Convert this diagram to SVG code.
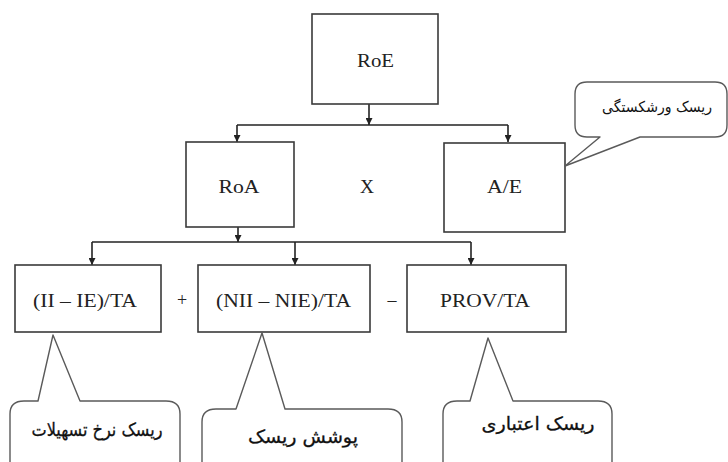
<svg xmlns="http://www.w3.org/2000/svg" width="728" height="462" viewBox="0 0 728 462">
<style>
.box{fill:#fff;stroke:#3a3a3a;stroke-width:1.6}
.co{fill:#fff;stroke:#5a5a5a;stroke-width:1.4;stroke-linejoin:round}
.lat{font-family:"Liberation Serif","Times New Roman",serif;font-size:18px;fill:#222;text-anchor:middle}
.fa{font-family:"DejaVu Sans","Noto Sans",sans-serif;font-size:18px;fill:#111;text-anchor:middle;stroke:#111;stroke-width:0.3}
.cn{fill:none;stroke:#222;stroke-width:1.6}
</style>
<defs>
<marker id="ah" viewBox="0 0 8 8" refX="8" refY="4" markerWidth="7" markerHeight="7" markerUnits="userSpaceOnUse" orient="auto">
<path d="M0,0 L8,4 L0,8 z" fill="#222"/>
</marker>
</defs>
<rect width="728" height="462" fill="#fff"/>
<g id="connectors">
<path class="cn" d="M369,104 V125" marker-end="url(#ah)"/>
<path class="cn" d="M237,125 H508"/>
<path class="cn" d="M237,125 V142" marker-end="url(#ah)"/>
<path class="cn" d="M508,125 V142" marker-end="url(#ah)"/>
<path class="cn" d="M238,227 V242" marker-end="url(#ah)"/>
<path class="cn" d="M92,242 H471"/>
<path class="cn" d="M92,242 V265" marker-end="url(#ah)"/>
<path class="cn" d="M295,242 V265" marker-end="url(#ah)"/>
<path class="cn" d="M471,242 V265" marker-end="url(#ah)"/>
</g>
<g id="roe"><rect class="box" x="312" y="14" width="126" height="90"/><text class="lat" x="375.5" y="67" textLength="37" lengthAdjust="spacingAndGlyphs">RoE</text></g>
<g id="roa"><rect class="box" x="186" y="142" width="108" height="85"/><text class="lat" x="239" y="193" textLength="41" lengthAdjust="spacingAndGlyphs">RoA</text></g>
<g id="times"><text class="lat" x="367" y="193" textLength="14" lengthAdjust="spacingAndGlyphs">X</text></g>
<g id="ae"><rect class="box" x="444" y="143" width="121" height="89"/><text class="lat" x="504.5" y="193" textLength="35" lengthAdjust="spacingAndGlyphs">A/E</text></g>
<g id="ii"><rect class="box" x="15" y="265" width="146" height="67"/><text class="lat" x="85" y="307" textLength="104" lengthAdjust="spacingAndGlyphs">(II – IE)/TA</text></g>
<g id="plus"><text class="lat" x="182" y="306">+</text></g>
<g id="nii"><rect class="box" x="198" y="265" width="172" height="67"/><text class="lat" x="283.5" y="307" textLength="135" lengthAdjust="spacingAndGlyphs">(NII – NIE)/TA</text></g>
<g id="minus"><text class="lat" x="392" y="306">–</text></g>
<g id="prov"><rect class="box" x="407" y="265" width="159" height="67"/><text class="lat" x="485" y="307" textLength="90" lengthAdjust="spacingAndGlyphs">PROV/TA</text></g>
<g id="callout-rate">
<path class="co" d="M10,462 V414 Q10,401 24,401 H38 L53,335 L80,401 H166 Q180,401 180,414 V462"/>
<text class="fa" x="97" y="436" direction="rtl" textLength="131" lengthAdjust="spacingAndGlyphs">ریسک نرخ تسهیلات</text>
</g>
<g id="callout-cover">
<path class="co" d="M202,462 V422 Q202,409 216,409 H236 L262,333 L285,409 H388 Q402,409 402,422 V462"/>
<text class="fa" x="303" y="443" direction="rtl" textLength="110" lengthAdjust="spacingAndGlyphs">پوشش ریسک</text>
</g>
<g id="callout-credit">
<path class="co" d="M443,462 V414 Q443,401 457,401 H470 L488,338 L513,401 H598 Q612,401 612,414 V462"/>
<text class="fa" x="538" y="430" direction="rtl" textLength="113" lengthAdjust="spacingAndGlyphs">ریسک اعتباری</text>
</g>
<g id="callout-bankruptcy">
<path class="co" d="M587,82 H715 Q727,82 727,94 V125 Q727,137 715,137 H640 L565,166 L600,137 H587 Q575,137 575,125 V94 Q575,82 587,82 Z"/>
<text class="fa" x="657" y="112" direction="rtl" textLength="110" lengthAdjust="spacingAndGlyphs" style="stroke-width:0;font-size:15px">ریسک ورشکستگی</text>
</g>
</svg>
